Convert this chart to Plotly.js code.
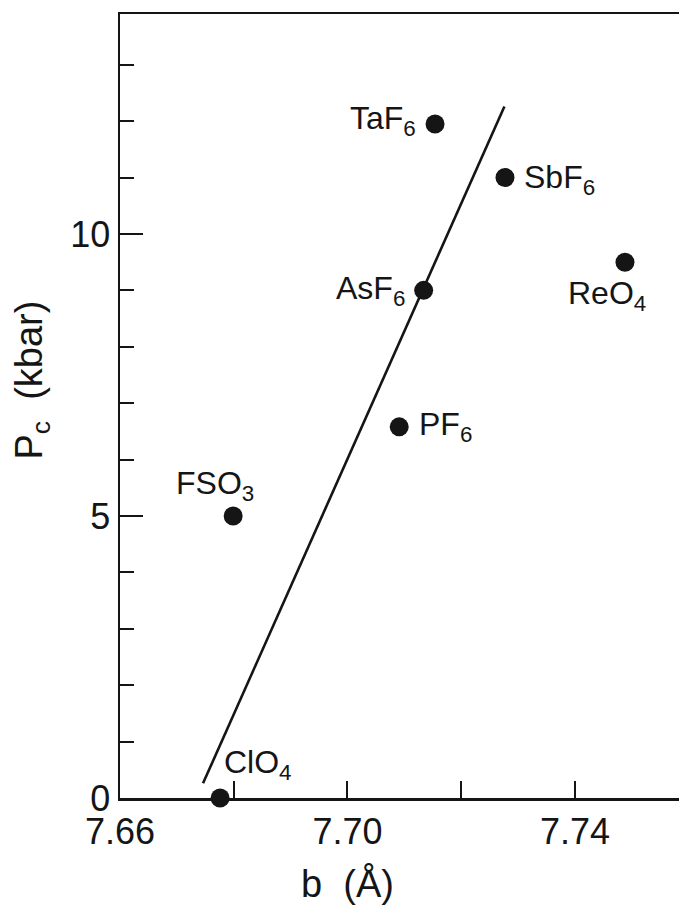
<!DOCTYPE html>
<html><head><meta charset="utf-8">
<script src="https://cdn.plot.ly/plotly-3.0.1.min.js"></script>
<style>html,body{margin:0;padding:0;background:#fff;overflow:hidden}</style>
</head><body><div id="chart" style="width:679px;height:908px"></div>
<script>
// ---- data ----
const anions    = ['ClO4', 'FSO3', 'PF6', 'AsF6', 'TaF6', 'SbF6', 'ReO4'];
const labelText = ['ClO<sub>4</sub>', 'FSO<sub>3</sub>', 'PF<sub>6</sub>', 'AsF<sub>6</sub>', 'TaF<sub>6</sub>', 'SbF<sub>6</sub>', 'ReO<sub>4</sub>'];
const bValues   = [7.6776, 7.6799, 7.7091, 7.7134, 7.7154, 7.7277, 7.7488];   // b (Å)
const pcValues  = [0.0, 5.0, 6.58, 9.0, 11.95, 11.0, 9.5];                   // Pc (kbar)
const fitB      = [7.6746, 7.7276];
const fitPc     = [0.26, 12.26];
const xTickVals = [7.66, 7.70, 7.74];
const xTickText = ['7.66', '7.70', '7.74'];
const yTickVals = [0, 5, 10];
const yTickText = ['0', '5', '10'];

// ---- label placement (pixels relative to each dot) ----
const labelPlace = {
  ClO4: {xanchor: 'left',   xshift: 2,   yshift: 34},
  FSO3: {xanchor: 'center', xshift: -18, yshift: 30},
  PF6:  {xanchor: 'left',   xshift: 18,  yshift: 0},
  AsF6: {xanchor: 'right',  xshift: -17, yshift: 0},
  TaF6: {xanchor: 'right',  xshift: -17, yshift: 3},
  SbF6: {xanchor: 'left',   xshift: 17,  yshift: -2},
  ReO4: {xanchor: 'center', xshift: -18, yshift: -33}
};

const ink = '#151515';
const FONT = '"Liberation Sans", Arial, sans-serif';

const traces = [
  {x: fitB, y: fitPc, mode: 'lines', type: 'scatter',
   line: {color: ink, width: 2.6}, hoverinfo: 'skip', showlegend: false},
  {x: bValues, y: pcValues, mode: 'markers', type: 'scatter', text: anions,
   marker: {color: ink, size: 19}, cliponaxis: false, showlegend: false}
];

const annotations = anions.map((a, i) => Object.assign({
  x: bValues[i], y: pcValues[i], xref: 'x', yref: 'y',
  text: labelText[i], showarrow: false, yanchor: 'middle',
  font: {family: FONT, size: 32, color: ink}
}, labelPlace[a]));

annotations.push({
  x: 7.70, xref: 'x', y: 0, yref: 'paper', yanchor: 'middle', yshift: -85,
  text: 'b&nbsp;&nbsp;(Å)', showarrow: false,
  font: {family: FONT, size: 38, color: ink}
});
annotations.push({
  x: 0, xref: 'paper', xanchor: 'center', xshift: -88, y: 7.4, yref: 'y',
  text: 'P<sub>c</sub>&nbsp;&nbsp;(kbar)', textangle: -90, showarrow: false,
  font: {family: FONT, size: 38, color: ink}
});

const layout = {
  width: 679, height: 908,
  margin: {l: 120, r: 0, t: 14, b: 110, pad: 0},
  paper_bgcolor: '#fff', plot_bgcolor: '#fff',
  showlegend: false,
  xaxis: {
    range: [7.66, 7.7583], showgrid: false, zeroline: false,
    showline: true, linecolor: ink, linewidth: 2.5, mirror: true,
    ticks: 'inside', ticklen: 17, tickwidth: 2, tickcolor: ink,
    tickmode: 'array', tickvals: xTickVals, ticktext: xTickText,
    tickfont: {family: FONT, size: 36, color: ink},
    minor: {dtick: 0.02, tick0: 7.66, ticks: 'inside', ticklen: 17, tickwidth: 2, tickcolor: ink, showgrid: false}
  },
  yaxis: {
    range: [0, 13.9], showgrid: false, zeroline: false,
    showline: true, linecolor: ink, linewidth: 2.5, mirror: false,
    ticks: 'inside', ticklen: 23, tickwidth: 2, tickcolor: ink,
    tickmode: 'array', tickvals: yTickVals, ticktext: yTickText,
    tickfont: {family: FONT, size: 36, color: ink},
    minor: {dtick: 1, tick0: 0, ticks: 'inside', ticklen: 14, tickwidth: 2, tickcolor: ink, showgrid: false}
  },
  annotations: annotations
};

Plotly.newPlot('chart', traces, layout, {staticPlot: true, displayModeBar: false});
</script>
</body></html>
